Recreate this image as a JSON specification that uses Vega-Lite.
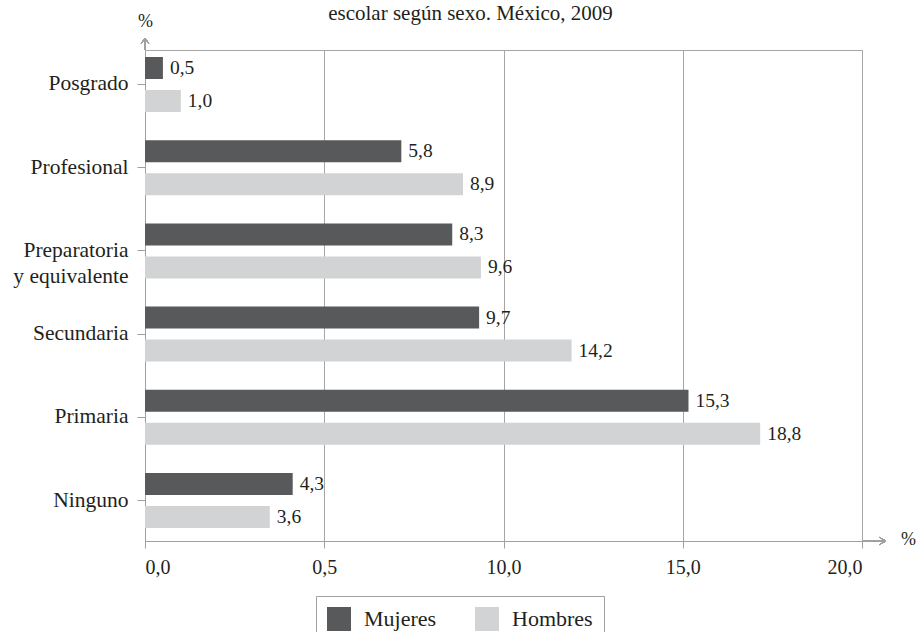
{
  "$schema": "https://vega.github.io/schema/vega-lite/v6.json",
  "autosize": {"type": "none"},
  "width": 717,
  "height": 491,
  "padding": {"left": 145, "top": 50, "right": 55, "bottom": 91},
  "background": "white",
  "title": {
    "text": "escolar según sexo. México, 2009",
    "font": "Liberation Serif",
    "fontSize": 21,
    "fontWeight": "normal",
    "color": "#231f20",
    "anchor": "middle",
    "frame": "group",
    "dx": -33,
    "dy": 12,
    "offset": 0
  },
  "config": {
    "view": {"stroke": "#a6a6a6", "strokeWidth": 1},
    "axis": {
      "domainColor": "#a0a0a0",
      "tickColor": "#a0a0a0",
      "gridColor": "#a6a6a6",
      "labelFont": "Liberation Serif",
      "titleFont": "Liberation Serif",
      "labelColor": "#231f20",
      "titleColor": "#231f20",
      "titleFontWeight": "normal"
    },
    "legend": {
      "labelFont": "Liberation Serif",
      "labelColor": "#231f20"
    }
  },
  "data": {
    "values": [
      {"nivel": "Posgrado", "sexo": "Mujeres", "valor": 0.5, "etiqueta": "0,5"},
      {"nivel": "Posgrado", "sexo": "Hombres", "valor": 1.0, "etiqueta": "1,0"},
      {"nivel": "Profesional", "sexo": "Mujeres", "valor": 7.15, "etiqueta": "5,8"},
      {"nivel": "Profesional", "sexo": "Hombres", "valor": 8.87, "etiqueta": "8,9"},
      {"nivel": "Preparatoria y equivalente", "sexo": "Mujeres", "valor": 8.57, "etiqueta": "8,3"},
      {"nivel": "Preparatoria y equivalente", "sexo": "Hombres", "valor": 9.37, "etiqueta": "9,6"},
      {"nivel": "Secundaria", "sexo": "Mujeres", "valor": 9.32, "etiqueta": "9,7"},
      {"nivel": "Secundaria", "sexo": "Hombres", "valor": 11.9, "etiqueta": "14,2"},
      {"nivel": "Primaria", "sexo": "Mujeres", "valor": 15.16, "etiqueta": "15,3"},
      {"nivel": "Primaria", "sexo": "Hombres", "valor": 17.16, "etiqueta": "18,8"},
      {"nivel": "Ninguno", "sexo": "Mujeres", "valor": 4.12, "etiqueta": "4,3"},
      {"nivel": "Ninguno", "sexo": "Hombres", "valor": 3.48, "etiqueta": "3,6"}
    ]
  },
  "encoding": {
    "y": {
      "field": "nivel",
      "type": "nominal",
      "sort": ["Posgrado", "Profesional", "Preparatoria y equivalente", "Secundaria", "Primaria", "Ninguno"],
      "scale": {"paddingInner": 0.339, "paddingOuter": 0.12, "align": 0.35},
      "axis": {
        "title": "%",
        "titleAngle": 0,
        "titleX": 0,
        "titleY": -20,
        "titleAlign": "center",
        "titleBaseline": "bottom",
        "titleFontSize": 18,
        "labelFontSize": 21.5,
        "labelPadding": 9,
        "labelLineHeight": 26,
        "tickSize": 8,
        "labelExpr": "datum.value == 'Preparatoria y equivalente' ? ['Preparatoria', 'y equivalente'] : datum.value"
      }
    },
    "yOffset": {
      "field": "sexo",
      "type": "nominal",
      "sort": ["Mujeres", "Hombres"],
      "scale": {"paddingInner": 0.333, "paddingOuter": 0}
    }
  },
  "layer": [
    {
      "mark": {"type": "bar"},
      "encoding": {
        "x": {
          "field": "valor",
          "type": "quantitative",
          "scale": {"domain": [0, 20], "nice": false},
          "axis": {
            "values": [0, 5, 10, 15, 20],
            "labelExpr": "datum.value == 5 ? '0,5' : replace(format(datum.value, '.1f'), '.', ',')",
            "labelFontSize": 20,
            "labelPadding": 9,
            "tickSize": 7,
            "grid": true,
            "title": "%",
            "titleX": 763,
            "titleY": -2,
            "titleAlign": "center",
            "titleBaseline": "middle",
            "titleFontSize": 18
          }
        },
        "color": {
          "field": "sexo",
          "type": "nominal",
          "scale": {"domain": ["Mujeres", "Hombres"], "range": ["#58595b", "#d1d3d4"]},
          "legend": {
            "title": null,
            "orient": "none",
            "direction": "horizontal",
            "legendX": 171,
            "legendY": 546,
            "strokeColor": "#a0a0a0",
            "fillColor": "white",
            "padding": 11,
            "symbolType": "square",
            "symbolSize": 576,
            "symbolStrokeWidth": 0,
            "symbolOpacity": 1,
            "labelFontSize": 22,
            "labelOffset": 13,
            "columnPadding": 38
          }
        }
      }
    },
    {
      "mark": {"type": "text", "align": "left", "baseline": "middle", "dx": 7, "font": "Liberation Serif", "fontSize": 19.5, "color": "#231f20"},
      "encoding": {
        "x": {"field": "valor", "type": "quantitative"},
        "text": {"field": "etiqueta"}
      }
    },
    {
      "mark": {"type": "point", "shape": "M0,0 L2,0 M1.45,-0.3 L2,0 L1.45,0.3", "filled": false, "stroke": "#a0a0a0", "strokeWidth": 1, "size": 576, "opacity": 1, "clip": false},
      "encoding": {
        "x": {"datum": 20, "type": "quantitative"},
        "y": {"value": "height"},
        "yOffset": null
      }
    },
    {
      "mark": {"type": "point", "shape": "M0,0 L0,-2 M-0.6,-1.1 L0,-2 L0.6,-1.1", "filled": false, "stroke": "#a0a0a0", "strokeWidth": 1, "size": 144, "opacity": 1, "clip": false},
      "encoding": {
        "x": {"datum": 0, "type": "quantitative"},
        "y": {"value": 0},
        "yOffset": null
      }
    }
  ]
}
